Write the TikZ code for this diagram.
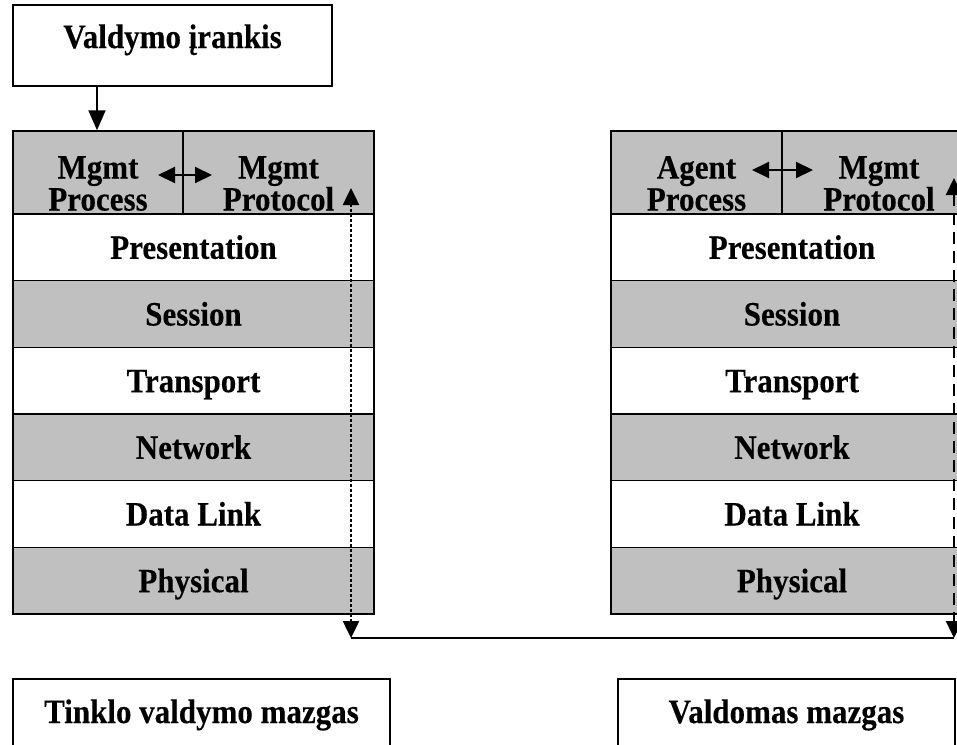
\documentclass[tikz,border=0pt]{standalone}
\usepackage{fontspec}
\usepackage{graphicx}
\setmainfont{Liberation Serif}[BoldFeatures={FakeBold=0.3}]
\usetikzlibrary{arrows.meta}
\definecolor{layergray}{HTML}{C0C0C0}
% slightly taller letter shapes
\newcommand\tallword[1]{\scalebox{1}[1.1]{#1}}
\begin{document}
\begin{tikzpicture}[x=1pt,y=-1pt,
  every node/.style={font=\fontsize{31}{32}\selectfont\bfseries, inner sep=0pt},
  frame/.style={draw, line width=1.5pt},
  layer/.style={frame, minimum height=66.67pt, text height=23pt, text depth=0pt},
  leftlayer/.style={layer, minimum width=361pt},
  rightlayer/.style={layer, minimum width=362pt},
  headcell/.style={frame, fill=layergray, minimum height=83pt},
  shaded/.style={fill=layergray},
  bigtip/.style={-{Triangle[length=20pt,width=17pt]}},
  bothtips/.style={{Triangle[length=17pt,width=16pt]}-{Triangle[length=17pt,width=16pt]}},
  link/.style={line width=2pt},
  dotline/.style={line width=2.5pt, dash pattern=on 2.5pt off 2.5pt},
  dashline/.style={line width=2.5pt, dash pattern=on 12pt off 7pt},
]
\clip (0,0) rectangle (957,744);

% management tool
\node[frame, minimum width=319pt, minimum height=81pt] (tool) at (172.5,45.5) {};
\node[anchor=base] (toolt) at (172.5,48) {\tallword{Valdymo įrankis}};

% manager stack
\node[headcell, minimum width=170pt] (lproc) at (98,172.5) {};
\node[headcell, minimum width=191pt] (lprot) at (278.5,172.5) {};
\node[align=center] (lproct) at (98,183.5) {\tallword{Mgmt}\\\tallword{Process}};
\node[align=center] (lprott) at (278.5,183.5) {\tallword{Mgmt}\\\tallword{Protocol}};
\node[leftlayer] (lpres) at (193.5,247.3) {\tallword{Presentation}};
\node[leftlayer, shaded] (lsess) at (193.5,314.0) {\tallword{Session}};
\node[leftlayer] (ltran) at (193.5,380.7) {\tallword{Transport}};
\node[leftlayer, shaded] (lnet) at (193.5,447.3) {\tallword{Network}};
\node[leftlayer] (ldata) at (193.5,514.0) {\tallword{Data Link}};
\node[leftlayer, shaded] (lphys) at (193.5,580.7) {\tallword{Physical}};

% agent stack
\node[headcell, minimum width=171pt] (rproc) at (696.5,172.5) {};
\node[headcell, minimum width=191pt] (rprot) at (877.5,172.5) {};
\node[align=center] (rproct) at (696.5,183.5) {\tallword{Agent}\\\tallword{Process}};
\node[align=center] (rprott) at (879,183.5) {\tallword{Mgmt}\\\tallword{Protocol}};
\node[rightlayer] (rpres) at (792,247.3) {\tallword{Presentation}};
\node[rightlayer, shaded] (rsess) at (792,314.0) {\tallword{Session}};
\node[rightlayer] (rtran) at (792,380.7) {\tallword{Transport}};
\node[rightlayer, shaded] (rnet) at (792,447.3) {\tallword{Network}};
\node[rightlayer] (rdata) at (792,514.0) {\tallword{Data Link}};
\node[rightlayer, shaded] (rphys) at (792,580.7) {\tallword{Physical}};

% node captions
\node[frame, minimum width=377pt, minimum height=90pt] (lcap) at (201.5,724) {};
\node[anchor=base] (lcapt) at (201.5,723) {\tallword{Tinklo valdymo mazgas}};
\node[frame, minimum width=337pt, minimum height=90pt] (rcap) at (786.5,724) {};
\node[anchor=base] (rcapt) at (786.5,723) {\tallword{Valdomas mazgas}};

% tool to manager process
\draw[link, bigtip] (tool.south -| 97,0) -- (lproc.north -| 97,0);

% process <-> protocol inside each header
\coordinate (la) at (158,175);
\coordinate (lb) at (212,175);
\draw[link, bothtips] (la) -- (lb);
\coordinate (ra) at (752,170);
\coordinate (rb) at (813,170);
\draw[link, bothtips] (ra) -- (rb);

% protocol path between the two stacks
\coordinate (ltop) at (351,188);
\coordinate (lbot) at (351,638);
\coordinate (rtop) at (954,178);
\coordinate (rbot) at (954,638);
\draw[dotline, bothtips] (ltop) -- (lbot);
\draw[link] (lbot) -- (rbot);
\draw[dashline, bothtips] (rtop) -- (rbot);
\end{tikzpicture}
\end{document}
